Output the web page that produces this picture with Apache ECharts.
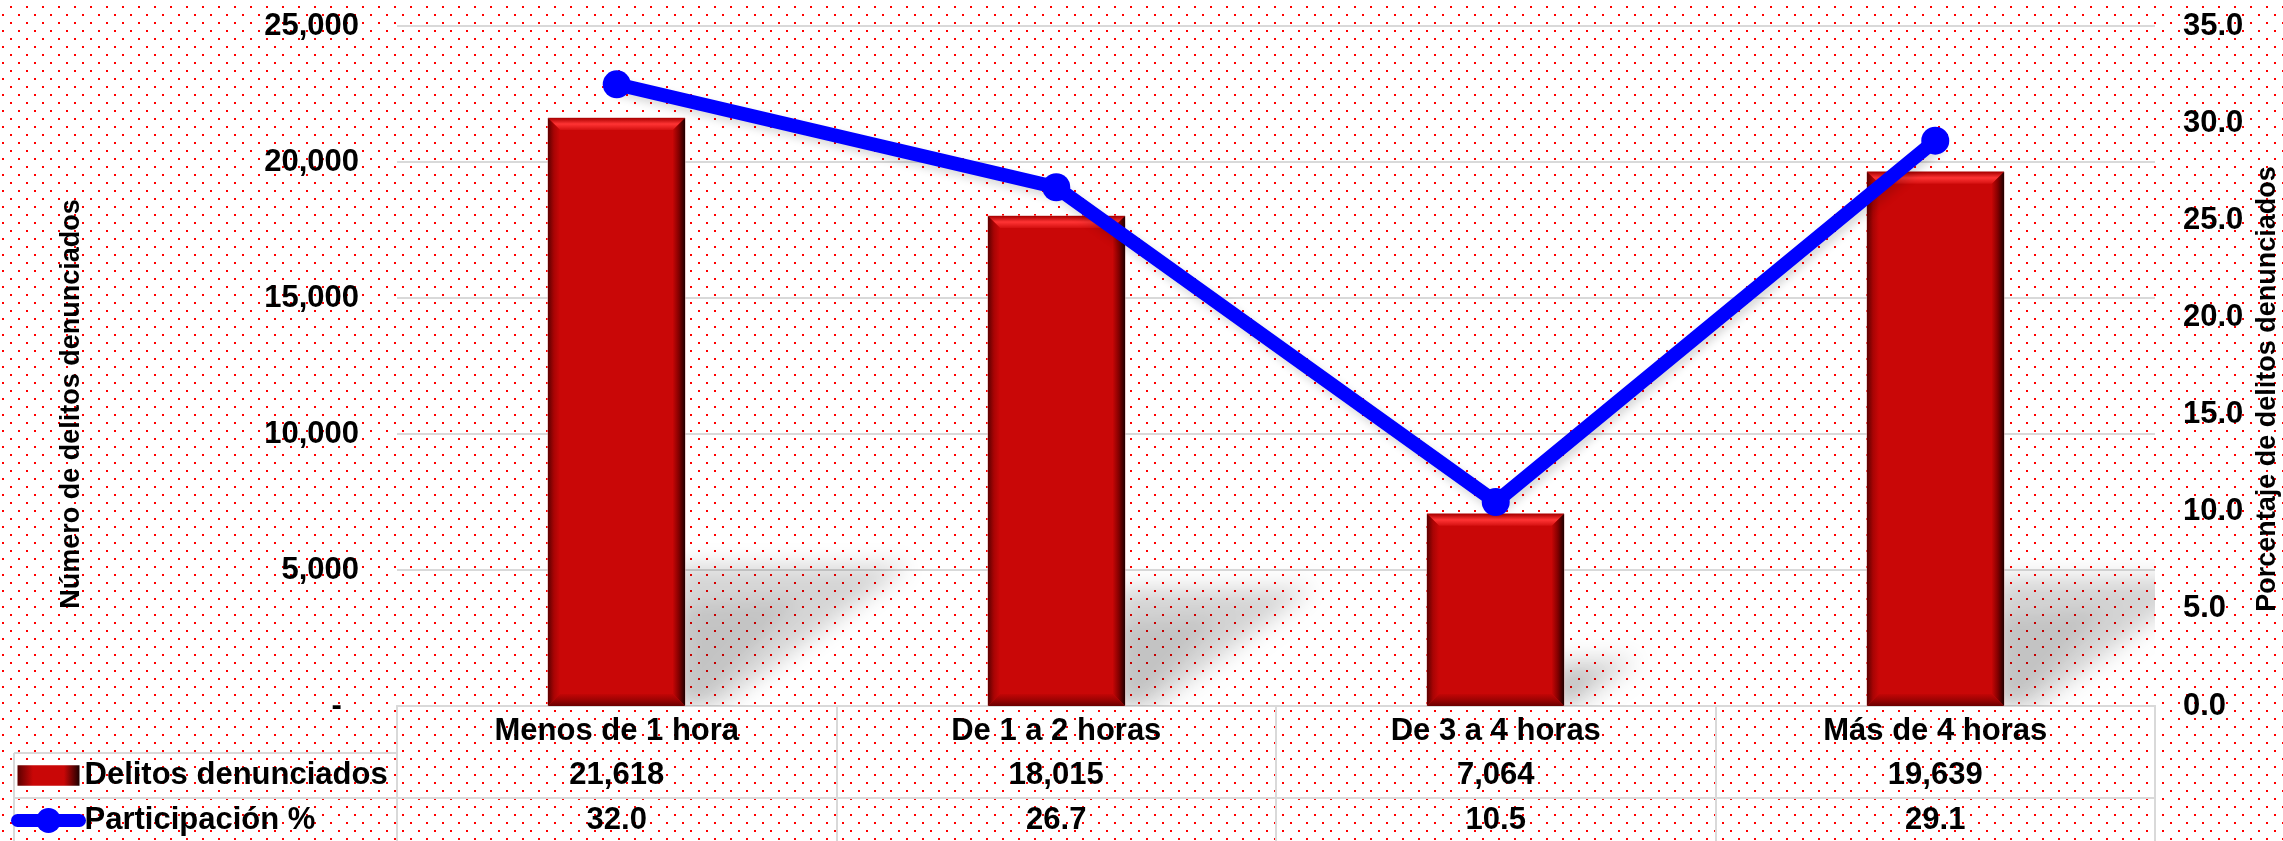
<!DOCTYPE html>
<html>
<head>
<meta charset="utf-8">
<title>Delitos denunciados por tiempo</title>
<script src="https://cdn.jsdelivr.net/npm/echarts@6/dist/echarts.min.js"></script>
<style>
html, body { margin: 0; padding: 0; background: #fff; }
#chart { width: 2283px; height: 841px; }
</style>
</head>
<body>
<div id="chart"></div>
<script>
// categorías
const categories = ['Menos de 1 hora', 'De 1 a 2 horas', 'De 3 a 4 horas', 'Más de 4 horas']
// delitos denunciados (barras)
const delitos = [21618, 18015, 7064, 19639]
// participación % (línea)
const participacion = [32.0, 26.7, 10.5, 29.1]
// escalas de los ejes
const leftAxis = { min: 0, max: 25000, interval: 5000 }
const rightAxis = { min: 0, max: 35, interval: 5 }

const FONT = '"Liberation Sans", Arial, sans-serif'
const GRID_LEFT = 397
const GRID_RIGHT = 2155
const GRID_TOP = 26
const AXIS_Y = 706
const ROW1 = AXIS_Y + 47
const ROW2 = AXIS_Y + 92
const TABLE_LEFT = 14
const LINE_GRAY = '#d9d9d9'
// la sombra se dibuja fuera de la vista y se proyecta con shadowOffsetX
const SHADOW_SHIFT = 4000

// fondo punteado rojo
const makeDots = () => {
  const c = document.createElement('canvas')
  c.width = 16
  c.height = 16
  const ctx = c.getContext('2d')
  ctx.fillStyle = '#ffffff'
  ctx.fillRect(0, 0, 16, 16)
  ctx.fillStyle = '#ff0000'
  ctx.fillRect(10, 6, 2, 2)
  ctx.fillRect(2, 14, 2, 2)
  return c
}

const grad = (x, y, x2, y2, stops) =>
  new echarts.graphic.LinearGradient(x, y, x2, y2, stops.map((c, i) => ({ offset: i / (stops.length - 1), color: c })))

const softShadow = (points, alpha, blur) => ({
  type: 'polygon',
  shape: { points: points.map(p => [p[0] - SHADOW_SHIFT, p[1]]) },
  style: {
    fill: '#000',
    shadowColor: `rgba(0,0,0,${alpha})`,
    shadowBlur: blur,
    shadowOffsetX: SHADOW_SHIFT
  },
  silent: true
})

// barra con bisel y sombra en perspectiva
const renderBar = (params, api) => {
  const top = api.coord([api.value(0), api.value(1)])
  const base = api.coord([api.value(0), 0])
  const w = api.size([1, 0])[0] * 0.311
  const x0 = Math.round(top[0] - w / 2)
  const x1 = Math.round(top[0] + w / 2)
  const y0 = top[1]
  const y1 = base[1]
  const h = y1 - y0
  const b = 12
  const sh = h * 0.24
  return {
    type: 'group',
    children: [
      softShadow([[x1 - 10, y1 - sh], [x1 + sh * 1.6, y1 - sh], [x1 + sh * 0.25, y1], [x1 - 10, y1]], 0.17, 22),
      softShadow([[x1 - 10, y1 - sh * 0.7], [x1 + sh * 0.8, y1 - sh * 0.75], [x1 + sh * 0.1, y1], [x1 - 10, y1]], 0.08, 18),
      {
        type: 'rect',
        shape: { x: x0, y: y0, width: x1 - x0, height: h },
        style: { fill: '#c90707', stroke: '#d9a0a0', lineWidth: 1 }
      },
      {
        type: 'polygon',
        shape: { points: [[x0, y0], [x1, y0], [x1 - b, y0 + b], [x0 + b, y0 + b]] },
        style: { fill: grad(0, 0, 0, 1, ['#a80000', '#ff3434', '#d41010']) }
      },
      {
        type: 'polygon',
        shape: { points: [[x0, y0], [x0 + b, y0 + b], [x0 + b, y1 - b], [x0, y1]] },
        style: { fill: grad(0, 0, 1, 0, ['#5c0000', '#a80404', '#c90707']) }
      },
      {
        type: 'polygon',
        shape: { points: [[x1, y0], [x1, y1], [x1 - b, y1 - b], [x1 - b, y0 + b]] },
        style: { fill: grad(1, 0, 0, 0, ['#1e0000', '#800000', '#c40606']) }
      },
      {
        type: 'polygon',
        shape: { points: [[x0, y1], [x0 + b, y1 - b], [x1 - b, y1 - b], [x1, y1]] },
        style: { fill: grad(0, 1, 0, 0, ['#6a0000', '#9c0303', '#c20606']) }
      }
    ]
  }
}

const chart = echarts.init(document.getElementById('chart'))

const labelFont = {
  fontFamily: FONT,
  fontSize: 31,
  fontWeight: 'bold',
  color: '#000'
}

const option = {
  animation: false,
  backgroundColor: { image: makeDots(), repeat: 'repeat' },
  grid: {
    left: GRID_LEFT,
    right: 2283 - GRID_RIGHT,
    top: GRID_TOP,
    bottom: 841 - AXIS_Y,
    containLabel: false,
    outerBoundsMode: 'none'
  },
  legend: {
    orient: 'vertical',
    left: 11,
    top: 760,
    padding: 0,
    itemWidth: 62,
    itemHeight: 31,
    itemGap: 14,
    itemTextGap: 2,
    selectedMode: false,
    textStyle: { ...labelFont, lineHeight: 31 },
    data: [
      { name: 'Delitos denunciados', icon: 'path://M0 0h54v18h-54z' },
      { name: 'Participación %', lineStyle: { width: 13 } }
    ]
  },
  xAxis: [
    {
      type: 'category',
      data: categories,
      position: 'bottom',
      axisLine: { show: true, lineStyle: { color: LINE_GRAY, width: 2 } },
      axisTick: { show: true, length: 841 - AXIS_Y, lineStyle: { color: LINE_GRAY, width: 2 } },
      axisLabel: { ...labelFont, interval: 0, margin: 25, verticalAlign: 'middle' }
    },
    {
      type: 'category',
      data: categories,
      position: 'bottom',
      offset: ROW1 - AXIS_Y,
      axisLine: { show: true, lineStyle: { color: LINE_GRAY, width: 2 } },
      axisTick: { show: false },
      axisLabel: {
        ...labelFont,
        interval: 0,
        margin: 22,
        verticalAlign: 'middle',
        formatter: (v, i) => delitos[i].toLocaleString('en-US')
      }
    },
    {
      type: 'category',
      data: categories,
      position: 'bottom',
      offset: ROW2 - AXIS_Y,
      axisLine: { show: true, lineStyle: { color: LINE_GRAY, width: 2 } },
      axisTick: { show: false },
      axisLabel: {
        ...labelFont,
        interval: 0,
        margin: 22,
        verticalAlign: 'middle',
        formatter: (v, i) => participacion[i].toFixed(1)
      }
    }
  ],
  yAxis: [
    {
      type: 'value',
      position: 'left',
      ...leftAxis,
      name: 'Número de delitos denunciados',
      nameLocation: 'middle',
      nameRotate: 90,
      nameGap: 312,
      nameTextStyle: { fontFamily: FONT, fontSize: 27, fontWeight: 'bold', color: '#000', padding: [0, 76, 0, 0] },
      axisLine: { show: false },
      axisTick: { show: false },
      axisLabel: {
        ...labelFont,
        margin: 38,
        formatter: v => (v === 0 ? '-  ' : v.toLocaleString('en-US'))
      },
      splitLine: { lineStyle: { color: LINE_GRAY, width: 2 } }
    },
    {
      type: 'value',
      position: 'right',
      ...rightAxis,
      name: 'Porcentaje de delitos denunciados',
      nameLocation: 'middle',
      nameRotate: 90,
      nameGap: 95,
      nameTextStyle: { fontFamily: FONT, fontSize: 27, fontWeight: 'bold', color: '#000', padding: [0, 46, 0, 0] },
      axisLine: { show: false },
      axisTick: { show: false },
      axisLabel: { ...labelFont, margin: 28, formatter: v => v.toFixed(1) },
      splitLine: { show: false }
    }
  ],
  graphic: [
    { type: 'line', shape: { x1: TABLE_LEFT, y1: ROW1, x2: GRID_LEFT, y2: ROW1 }, style: { stroke: LINE_GRAY, lineWidth: 2 } },
    { type: 'line', shape: { x1: TABLE_LEFT, y1: ROW2, x2: GRID_LEFT, y2: ROW2 }, style: { stroke: LINE_GRAY, lineWidth: 2 } },
    { type: 'line', shape: { x1: TABLE_LEFT, y1: ROW1, x2: TABLE_LEFT, y2: 841 }, style: { stroke: LINE_GRAY, lineWidth: 2 } }
  ],
  series: [
    {
      name: 'Delitos denunciados',
      type: 'custom',
      xAxisIndex: 0,
      yAxisIndex: 0,
      clip: true,
      renderItem: renderBar,
      itemStyle: { color: grad(0, 0, 1, 0, ['#5c0000', '#c90707', '#c90707', '#c90707', '#1e0000']) },
      encode: { x: 0, y: 1 },
      data: delitos.map((v, i) => [i, v]),
      z: 2
    },
    {
      name: 'Participación %',
      type: 'line',
      xAxisIndex: 0,
      yAxisIndex: 1,
      data: participacion,
      symbol: 'circle',
      symbolSize: 28,
      lineStyle: {
        color: '#0000ff',
        width: 14,
        cap: 'round',
        join: 'round',
        shadowColor: 'rgba(0,0,0,0.15)',
        shadowBlur: 8,
        shadowOffsetX: 3,
        shadowOffsetY: 5
      },
      itemStyle: { color: '#0000ff' },
      z: 5
    }
  ]
}

chart.setOption(option)
window.addEventListener('resize', () => chart.resize())
</script>
</body>
</html>
